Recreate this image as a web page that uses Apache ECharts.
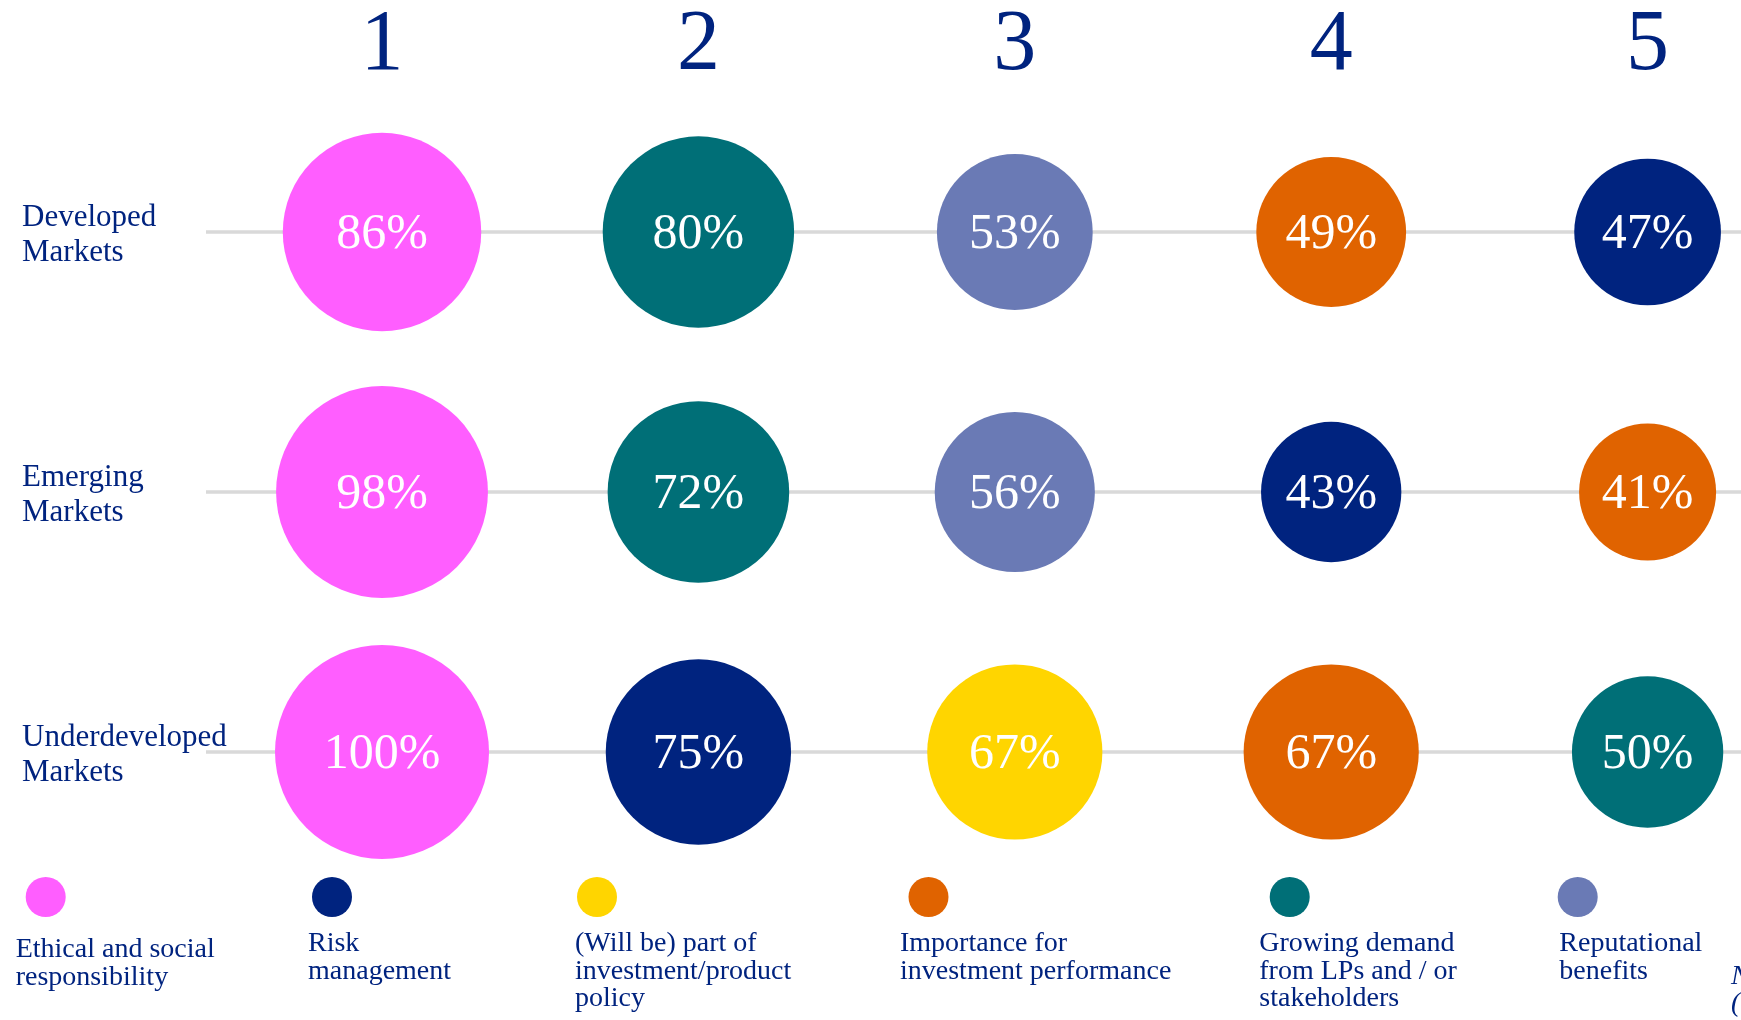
<!DOCTYPE html>
<html>
<head>
<meta charset="utf-8">
<script src="https://cdn.jsdelivr.net/npm/echarts@6/dist/echarts.min.js"></script>
<style>
  html, body { margin: 0; padding: 0; background: #ffffff; }
  #chart { width: 1741px; height: 1020px; }
</style>
</head>
<body>
<div id="chart"></div>
<script>
// ---------- DATA ----------
const ranks = [1, 2, 3, 4, 5];
const markets = ['Developed\nMarkets', 'Emerging\nMarkets', 'Underdeveloped\nMarkets'];
const reasons = [
  'Ethical and social\nresponsibility',
  'Risk\nmanagement',
  '(Will be) part of\ninvestment/product\npolicy',
  'Importance for\ninvestment performance',
  'Growing demand\nfrom LPs and / or\nstakeholders',
  'Reputational\nbenefits'
];
// reason index shown at rank 1..5, and its share
const developedReasons = [0, 4, 5, 3, 1];
const developedValues  = [86, 80, 53, 49, 47];
const emergingReasons  = [0, 4, 5, 1, 3];
const emergingValues   = [98, 72, 56, 43, 41];
const underReasons     = [0, 1, 2, 3, 4];
const underValues      = [100, 75, 67, 67, 50];

// ---------- STYLE ----------
const reasonColors = ['#FF5EFF', '#00237F', '#FFD500', '#E06300', '#006F77', '#6A7AB5'];
const navy = '#00237F';
const serif = '"Liberation Serif", "Times New Roman", serif';

const rowReasons = [developedReasons, emergingReasons, underReasons];
const rowValues = [developedValues, emergingValues, underValues];

// one scatter series per reason
const series = reasons.map((r, ri) => {
  const data = [];
  rowReasons.forEach((rr, mi) => {
    rr.forEach((reasonIdx, k) => {
      if (reasonIdx === ri) data.push([ranks[k], markets[mi], rowValues[mi][k]]);
    });
  });
  return {
    name: r.replace(/\n/g, ' '),
    type: 'scatter',
    z: 5,
    data: data,
    symbol: 'circle',
    symbolSize: d => 214 * Math.sqrt(d[2] / 100),
    itemStyle: { color: reasonColors[ri], opacity: 1 },
    label: {
      show: true,
      position: 'inside',
      offset: [0, 3],
      formatter: p => p.value[2] + '%',
      color: '#ffffff',
      fontFamily: serif,
      fontSize: 50
    },
    emphasis: { disabled: true },
    silent: true
  };
});

// grey guide lines through each market row (drawn beneath the bubbles)
series.unshift({
  type: 'scatter',
  z: 1,
  data: [],
  silent: true,
  markLine: {
    silent: true,
    z: 1,
    symbol: ['none', 'none'],
    label: { show: false },
    lineStyle: { color: '#d9d9d9', width: 3.5, type: 'solid' },
    emphasis: { disabled: true },
    data: markets.map(m => ({ yAxis: m }))
  }
});

// legend built from the reason list
const legendDotX = [45.7, 332, 597, 928.5, 1289.7, 1577.7];
const legendTextX = [15.7, 308, 575, 900, 1259.3, 1559.3];
const legendTextTop = [936, 930, 930, 930, 930, 930];
const graphics = [];
reasons.forEach((r, i) => {
  graphics.push({
    type: 'circle',
    shape: { cx: legendDotX[i], cy: 897, r: 20 },
    style: { fill: reasonColors[i] },
    silent: true
  });
  graphics.push({
    type: 'text',
    x: legendTextX[i],
    y: legendTextTop[i],
    style: {
      text: r,
      fill: navy,
      font: '28px ' + serif,
      lineHeight: 27.5,
      verticalAlign: 'top',
      align: 'left'
    },
    silent: true
  });
});
graphics.push({
  type: 'text',
  x: 1731,
  y: 963,
  style: {
    text: 'N\n(',
    fill: navy,
    font: 'italic 28px ' + serif,
    lineHeight: 27,
    verticalAlign: 'top',
    align: 'left'
  },
  silent: true
});

const chart = echarts.init(document.getElementById('chart'), null, { renderer: 'canvas' });
chart.setOption({
  animation: false,
  backgroundColor: '#ffffff',
  grid: { left: 206, right: 0, top: 102, bottom: 138 },
  xAxis: {
    type: 'value',
    position: 'top',
    min: 0.4437,
    max: 5.2952,
    axisLine: { show: false },
    axisTick: { show: false },
    splitLine: { show: false },
    axisLabel: {
      customValues: ranks,
      formatter: v => String(v),
      color: navy,
      fontFamily: serif,
      fontSize: 86,
      margin: 56,
      verticalAlign: 'middle'
    }
  },
  yAxis: {
    type: 'category',
    inverse: true,
    data: markets,
    axisLine: { show: false },
    axisTick: { show: false },
    splitLine: { show: false },
    axisLabel: {
      align: 'left',
      margin: 184,
      color: navy,
      fontFamily: serif,
      fontSize: 31,
      lineHeight: 35,
      formatter: v => '{s| }\n' + v.split('\n').map(s => '{t|' + s + '}').join('\n'),
      rich: {
        s: { fontSize: 6, lineHeight: 7, fontFamily: serif },
        t: { fontSize: 31, lineHeight: 35, fontFamily: serif, color: navy }
      }
    }
  },
  graphic: graphics,
  series: series
});
</script>
</body>
</html>
